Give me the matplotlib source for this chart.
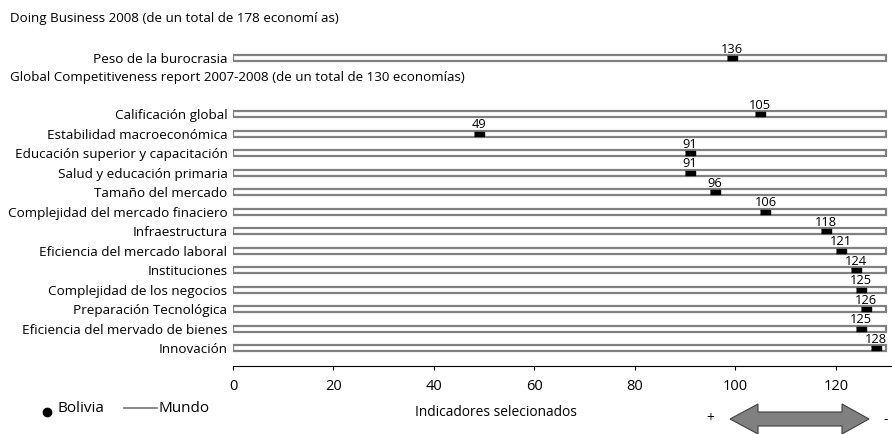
import matplotlib
matplotlib.use('Agg')
from matplotlib import pyplot as plt
from matplotlib.lines import Line2D
from matplotlib.patches import Polygon

plt.rcParams['font.family'] = ['Open Sans', 'DejaVu Sans']

# Doing Business 2008
db_header = 'Doing Business 2008 (de un total de 178 economí as)'
db_label = 'Peso de la burocrasia'
db_rank = 136
db_total = 178

# Global Competitiveness report 2007-2008, listed top to bottom
gcr_header = 'Global Competitiveness report 2007-2008 (de un total de 130 economías)'
gcr_labels = [
    'Calificación global',
    'Estabilidad macroeconómica',
    'Educación superior y capacitación',
    'Salud y educación primaria',
    'Tamaño del mercado',
    'Complejidad del mercado finaciero',
    'Infraestructura',
    'Eficiencia del mercado laboral',
    'Instituciones',
    'Complejidad de los negocios',
    'Preparación Tecnológica',
    'Eficiencia del mervado de bienes',
    'Innovación',
]
gcr_ranks = [105, 49, 91, 91, 96, 106, 118, 121, 124, 125, 126, 125, 128]
gcr_total = 130

x_ticks = [0, 20, 40, 60, 80, 100, 120]

W, H = 892, 434
fig = plt.figure(figsize=(W / 100, H / 100), dpi=100)
ax = fig.add_axes([233 / W, 1 - 366 / H, 1 - 233 / W, 366 / H])

# row positions: Innovación at 0 upward, Doing Business block above
n = len(gcr_labels)
gcr_y = [n - 1 - i for i in range(n)]
db_y = 14.87
gcr_header_y = 13.9
db_header_y = 16.9

labels = [db_label] + gcr_labels
ys = [db_y] + gcr_y
# the Doing Business rank is rescaled to the 130-economy axis
pos = [db_rank * gcr_total / db_total] + gcr_ranks
vals = [db_rank] + gcr_ranks

ax.barh(ys, [gcr_total] * len(ys), height=0.31, color='white',
        edgecolor='#808080', linewidth=1.6, zorder=2)

box = [(-1, -0.5), (1, -0.5), (1, 0.5), (-1, 0.5)]
ax.plot(pos, ys, linestyle='none', marker=box, markersize=7,
        color='black', zorder=3)
for x, y, v in zip(pos, ys, vals):
    ax.annotate(str(v), (x, y), xytext=(0, 1.5), textcoords='offset points',
                ha='center', va='bottom', fontsize=9.3, zorder=4)

ax.set_xlim(0, 131.2)
ax.set_ylim(-0.92, 17.85)
ax.set_yticks(ys, labels, fontsize=9.7)
ax.tick_params(axis='y', length=0, pad=4)
ax.set_xticks(x_ticks)
ax.tick_params(axis='x', length=3, labelsize=10.5, pad=6)
for s in ['top', 'right', 'left']:
    ax.spines[s].set_visible(False)

trans = ax.get_yaxis_transform()
hx = (10 - 233) / (W - 233)
ax.text(hx, db_header_y, db_header, transform=trans, fontsize=9.6,
        va='center', ha='left')
ax.text(hx, gcr_header_y, gcr_header, transform=trans, fontsize=9.6,
        va='center', ha='left')


def fx(px):
    return px / W


def fy(py):
    return 1 - py / H


# legend, drawn by hand
fig.add_artist(Line2D([fx(47)], [fy(412)], marker='o', markersize=6,
                      color='black', linestyle='none'))
fig.text(fx(57), fy(409), 'Bolivia', fontsize=11, va='center', ha='left')
fig.add_artist(Line2D([fx(124), fx(157)], [fy(408), fy(408)],
                      color='#808080', linewidth=1.3))
fig.text(fx(158), fy(409), 'Mundo', fontsize=11, va='center', ha='left')

fig.text(fx(415), fy(413), 'Indicadores selecionados', fontsize=9.9,
         va='center', ha='left')

# direction arrow: + better, - worse
fig.text(fx(710), fy(419), '+', fontsize=10, va='center', ha='center')
fig.text(fx(886), fy(419), '-', fontsize=10, va='center', ha='center')
arrow = [(730, 419), (758, 404), (758, 412), (842, 412), (842, 404),
         (869, 419), (842, 434), (842, 426), (758, 426), (758, 434)]
fig.patches.append(Polygon([(fx(px), fy(py)) for px, py in arrow],
                           closed=True, facecolor='#808080',
                           edgecolor='#404040', linewidth=0.8,
                           transform=fig.transFigure))

fig.savefig('out.png', dpi=100)
